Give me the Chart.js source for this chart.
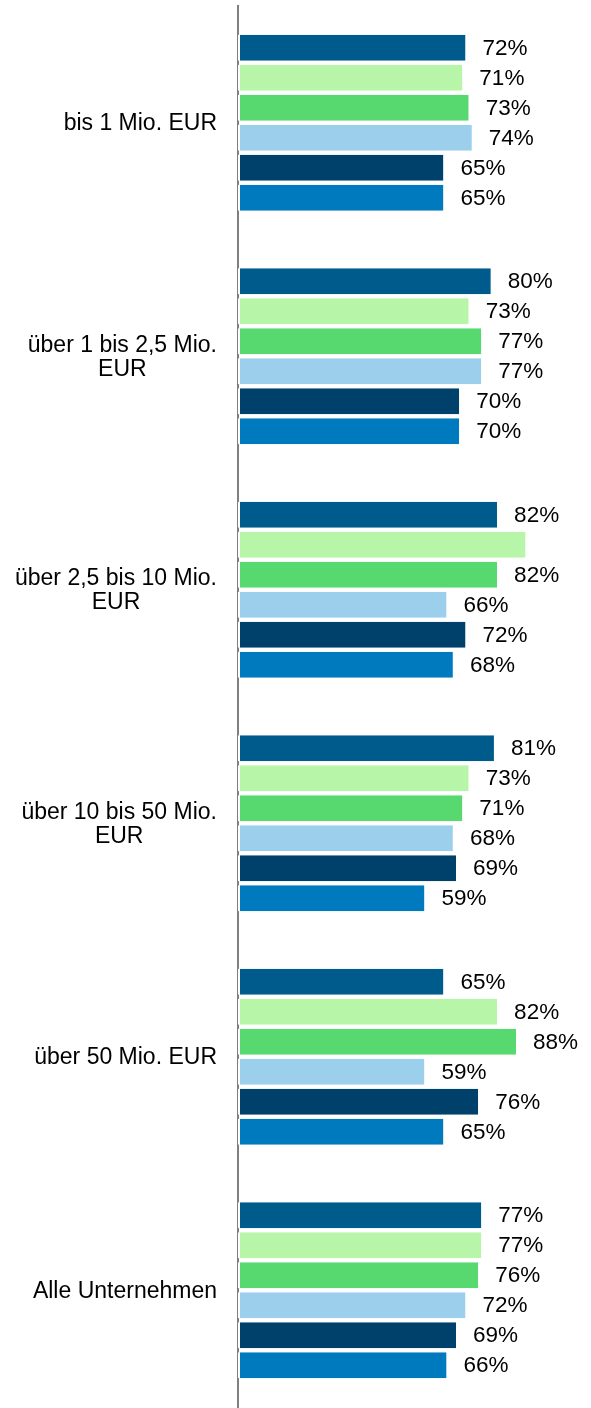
<!DOCTYPE html>
<html>
<head>
<meta charset="utf-8">
<script src="https://cdn.jsdelivr.net/npm/chart.js@4/dist/chart.umd.min.js"></script>
<style>
body { margin: 0; background: #fff; }
#wrap { width: 591px; height: 1408px; position: relative; }
</style>
</head>
<body>
<div id="wrap"><canvas id="chart"></canvas></div>
<script>
var categories = [
	'bis 1 Mio. EUR',
	['über 1 bis 2,5 Mio.', 'EUR'],
	['über 2,5 bis 10 Mio.', 'EUR'],
	['über 10 bis 50 Mio.', 'EUR'],
	'über 50 Mio. EUR',
	'Alle Unternehmen'
];

var series_names = ['Reihe 1', 'Reihe 2', 'Reihe 3', 'Reihe 4', 'Reihe 5', 'Reihe 6'];

var series_colours = ['#005B8D', '#B7F6A8', '#58D970', '#9BCFEC', '#00416C', '#007ABE'];

// one array per series, one value per category
var series1 = [72, 80, 82, 81, 65, 77];
var series2 = [71, 73, 91, 73, 82, 77];
var series3 = [73, 77, 82, 71, 88, 76];
var series4 = [74, 77, 66, 68, 59, 72];
var series5 = [65, 70, 72, 69, 76, 69];
var series6 = [65, 70, 68, 59, 65, 66];

// [category, series] pairs whose value label is not shown
var hidden_labels = [[2, 1]];

var FONT = '"Liberation Sans", Arial, sans-serif';

function isHidden(cat, ser)
{
	for (var i = 0; i < hidden_labels.length; i++)
		if (hidden_labels[i][0] == cat && hidden_labels[i][1] == ser)
			return true;
	return false;
}

// value labels right of each bar
var valueLabels = {
	id: 'valueLabels',
	afterDatasetsDraw: function(chart)
	{
		var ctx = chart.ctx;
		ctx.save();
		ctx.font = '22.5px ' + FONT;
		ctx.fillStyle = '#000';
		ctx.textAlign = 'left';
		ctx.textBaseline = 'middle';
		chart.data.datasets.forEach(function(ds, si)
		{
			chart.getDatasetMeta(si).data.forEach(function(bar, ci)
			{
				if (isHidden(ci, si))
					return;
				ctx.fillText(ds.data[ci] + '%', bar.x + 17, bar.y + 1);
			});
		});
		ctx.restore();
	}
};

// category labels: block right aligned, lines centred among themselves
var categoryLabels = {
	id: 'categoryLabels',
	afterDraw: function(chart)
	{
		var ctx = chart.ctx;
		var yScale = chart.scales.y;
		var right = chart.chartArea.left - 21;
		var lineHeight = 24;
		ctx.save();
		ctx.font = '23px ' + FONT;
		ctx.fillStyle = '#000';
		ctx.textAlign = 'center';
		ctx.textBaseline = 'middle';
		categories.forEach(function(cat, i)
		{
			var lines = Array.isArray(cat) ? cat : [cat];
			var maxW = 0;
			lines.forEach(function(l) { maxW = Math.max(maxW, ctx.measureText(l).width); });
			var cx = right - maxW / 2;
			var cy = yScale.getPixelForValue(i) + 1 - (lines.length - 1) * lineHeight / 2;
			lines.forEach(function(l, k) { ctx.fillText(l, cx, cy + k * lineHeight); });
		});
		ctx.restore();
	}
};

var all_series = [series1, series2, series3, series4, series5, series6];

var datasets = all_series.map(function(values, i)
{
	return {
		label: series_names[i],
		data: values,
		backgroundColor: series_colours[i],
		borderColor: '#FFFFFF',
		borderWidth: { left: 2, top: 0, right: 0, bottom: 0 },
		borderSkipped: false,
		categoryPercentage: 0.771,
		barPercentage: 0.867
	};
});

new Chart(document.getElementById('chart').getContext('2d'), {
	type: 'bar',
	data: { labels: categories, datasets: datasets },
	options: {
		indexAxis: 'y',
		responsive: true,
		maintainAspectRatio: false,
		animation: false,
		layout: { padding: { left: 238, top: 6, bottom: 1, right: 37 } },
		plugins: { legend: { display: false }, tooltip: { enabled: false } },
		scales: {
			x: { display: false, min: 0, max: 100 },
			y: {
				display: true,
				ticks: { display: false },
				grid: { display: false, drawTicks: false },
				border: { display: true, color: '#7F7F7F', width: 2 }
			}
		}
	},
	plugins: [valueLabels, categoryLabels]
});
</script>
</body>
</html>
